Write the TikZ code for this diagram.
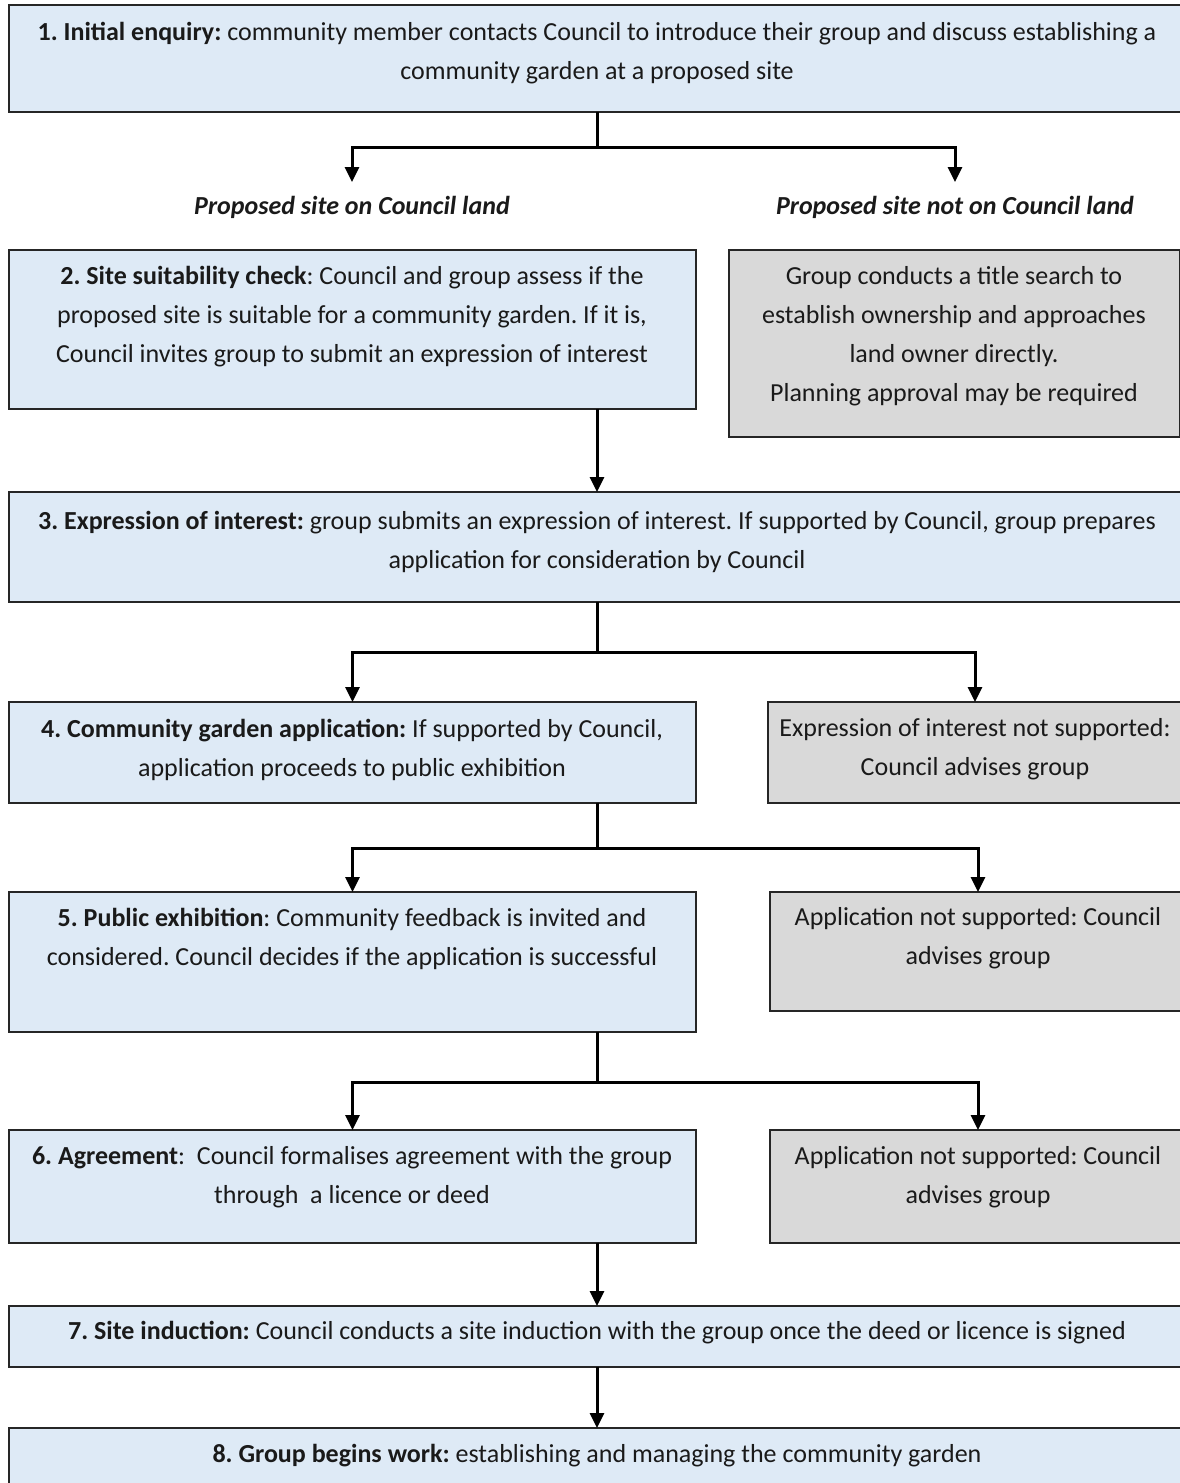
\documentclass[tikz,border=0pt]{standalone}
\usepackage{fontspec}
\setmainfont{Carlito}
\usetikzlibrary{arrows.meta}
\definecolor{boxblue}{HTML}{DEEAF6}
\definecolor{boxgrey}{HTML}{D9D9D9}
\definecolor{edge}{HTML}{262626}
\definecolor{ink}{HTML}{1A1A1A}
\frenchspacing
\begin{document}
\begin{tikzpicture}[x=0.5pt,y=-0.5pt,
  bluebox/.style={draw=edge,line width=0.8pt,fill=boxblue,rectangle,inner sep=0pt,outer sep=0pt,anchor=north west},
  greybox/.style={draw=edge,line width=0.8pt,fill=boxgrey,rectangle,inner sep=0pt,outer sep=0pt,anchor=north west},
  txt/.style={align=center,text=ink,inner sep=0pt,font=\fontsize{13pt}{19.5pt}\selectfont\frenchspacing},
  lbl/.style={align=center,text=ink,inner xsep=0pt,inner ysep=7pt,text height=9pt,text depth=3pt,anchor=north,font=\fontsize{13pt}{19.5pt}\selectfont\bfseries\itshape},
  conn/.style={line width=1.5pt,draw=black},
  arr/.style={conn,-{Triangle[length=7.5pt,width=7pt]}}]
\useasboundingbox (0,0) rectangle (1179,1483);
% boxes
\node[bluebox,minimum width=588pt,minimum height=53.5pt] (b1) at (9,5) {};
\node[bluebox,minimum width=343.5pt,minimum height=79.5pt] (b2) at (9,250) {};
\node[greybox,minimum width=225.5pt,minimum height=93.5pt] (g1) at (729,250) {};
\node[bluebox,minimum width=588pt,minimum height=55pt] (b3) at (9,492) {};
\node[bluebox,minimum width=343.5pt,minimum height=50.5pt] (b4) at (9,702) {};
\node[greybox,minimum width=207pt,minimum height=50.5pt] (g2) at (768,702) {};
\node[bluebox,minimum width=343.5pt,minimum height=70pt] (b5) at (9,892) {};
\node[greybox,minimum width=208pt,minimum height=59.5pt] (g3) at (770,892) {};
\node[bluebox,minimum width=343.5pt,minimum height=56.5pt] (b6) at (9,1130) {};
\node[greybox,minimum width=208pt,minimum height=56.5pt] (g4) at (770,1130) {};
\node[bluebox,minimum width=588pt,minimum height=30.5pt] (b7) at (9,1306) {};
\node[bluebox,minimum width=588pt,minimum height=31pt] (b8) at (9,1428) {};
% texts
\node[txt] (t1) at (597,53) {\textbf{1. Initial enquiry:} community member contacts Council to introduce their group and discuss establishing a\\community garden at a proposed site};
\node[lbl] (l1) at (352,182) {Proposed site on Council land};
\node[lbl] (l2) at (955,182) {Proposed site not on Council land};
\node[txt] (t2) at (352,317) {\textbf{2. Site suitability check}: Council and group assess if the\\proposed site is suitable for a community garden. If it is,\\Council invites group to submit an expression of interest};
\node[txt] (tg1) at (954,336.5) {Group conducts a title search to\\establish ownership and approaches\\land owner directly.\\Planning approval may be required};
\node[txt] (t3) at (597,541.5) {\textbf{3. Expression of interest:} group submits an expression of interest. If supported by Council, group prepares\\application for consideration by Council};
\node[txt] (t4) at (352,749.5) {\textbf{4. Community garden application:} If supported by Council,\\application proceeds to public exhibition};
\node[txt] (tg2) at (975,749.5) {Expression of interest not supported:\\Council advises group};
\node[txt] (t5) at (352,938.5) {\textbf{5. Public exhibition}: Community feedback is invited and\\considered. Council decides if the application is successful};
\node[txt] (tg3) at (978,938.5) {Application not supported: Council\\advises group};
\node[txt] (t6) at (352,1177) {\textbf{6. Agreement}:\ \ Council formalises agreement with the group\\through\ \ a licence or deed};
\node[txt] (tg4) at (978,1177) {Application not supported: Council\\advises group};
\node[txt] (t7) at (597,1333) {\textbf{7. Site induction:} Council conducts a site induction with the group once the deed or licence is signed};
\node[txt] (t8) at (597,1456) {\textbf{8. Group begins work:} establishing and managing the community garden};
% junctions
\coordinate (j1) at (597,147);
\coordinate (j2) at (597,652);
\coordinate (j3) at (597,848);
\coordinate (j4) at (597,1082);
% connectors
\draw[conn] (b1.south) -- (j1);
\draw[arr] (j1) -| (l1.north);
\draw[arr] (j1) -| (l2.north);
\draw[arr] (b2.south -| b3.north) -- (b3.north);
\draw[conn] (b3.south) -- (j2);
\draw[arr] (j2) -| (b4.north);
\draw[arr] (j2) -| (g2.north);
\draw[conn] (b4.south -| j3) -- (j3);
\draw[arr] (j3) -| (b5.north);
\draw[arr] (j3) -| (g3.north);
\draw[conn] (b5.south -| j4) -- (j4);
\draw[arr] (j4) -| (b6.north);
\draw[arr] (j4) -| (g4.north);
\draw[arr] (b6.south -| b7.north) -- (b7.north);
\draw[arr] (b7.south) -- (b8.north);
\end{tikzpicture}
\end{document}
